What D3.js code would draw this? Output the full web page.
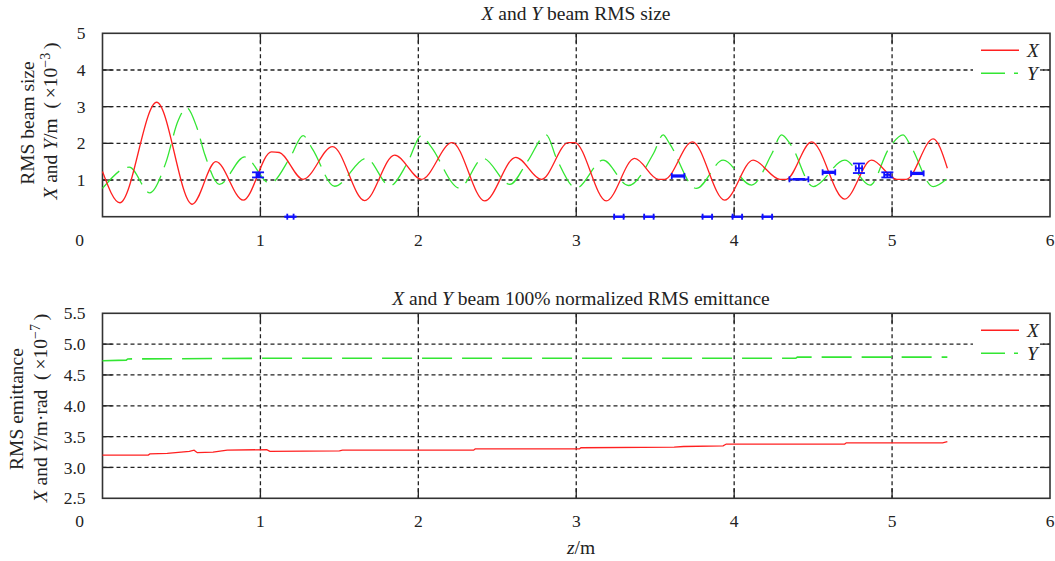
<!DOCTYPE html>
<html>
<head>
<meta charset="utf-8">
<script src="https://cdn.jsdelivr.net/npm/d3@7/dist/d3.min.js"></script>
<style>
  body { margin: 0; background: #fff; }
  text { font-family: "Liberation Serif", "Times New Roman", serif; fill: #222; }
</style>
</head>
<body>
<div id="chart"></div>
<script>
// ---- data: top panel, RMS beam size (x10^-3 m) ----
var sizeXz = [0, 0.11, 0.343, 0.568, 0.718, 0.891, 1.07, 1.12, 1.27, 1.457, 1.66, 1.85, 2.02, 2.214, 2.42, 2.617, 2.78, 2.95, 2.99, 3.19, 3.37, 3.52, 3.56, 3.735, 3.94, 4.12, 4.29, 4.33, 4.49, 4.70, 4.87, 5.03, 5.09, 5.26, 5.35];
var sizeX  = [1.23, 0.38, 3.12, 0.34, 1.5, 0.45, 1.77, 1.75, 1.02, 1.91, 0.44, 1.68, 1.02, 2.02, 0.43, 1.62, 1.02, 2.02, 2.02, 0.43, 1.59, 1.02, 1.02, 2.04, 0.45, 1.54, 1.02, 1.02, 2.04, 0.48, 1.54, 1.02, 1.02, 2.12, 1.32];

var sizeYz = [0, 0.17, 0.30, 0.40, 0.48, 0.533, 0.596, 0.649, 0.74, 0.90, 1.06, 1.19, 1.27, 1.33, 1.47, 1.67, 1.82, 1.93, 2.02, 2.08, 2.26, 2.41, 2.58, 2.69, 2.81, 2.875, 3.0, 3.17, 3.33, 3.49, 3.55, 3.59, 3.76, 3.93, 4.11, 4.24, 4.30, 4.36, 4.50, 4.70, 4.86, 4.98, 5.07, 5.12, 5.26, 5.35];
var sizeY  = [0.77, 1.35, 0.65, 1.46, 2.63, 2.97, 2.45, 1.68, 0.88, 1.63, 0.91, 1.63, 2.21, 1.84, 0.83, 1.59, 0.84, 1.46, 2.21, 1.91, 0.78, 1.59, 0.88, 1.5, 2.23, 1.59, 0.78, 1.54, 0.85, 1.73, 2.23, 2.0, 0.77, 1.54, 0.86, 1.73, 2.23, 1.95, 0.82, 1.54, 0.86, 1.86, 2.23, 1.91, 0.82, 1.05];

// measured points with error bars
var markZ    = [0.985, 1.19, 3.27, 3.46, 3.645, 3.83, 4.02, 4.21, 4.41, 4.60, 4.79, 4.97, 5.16];
var markSize = [1.14, 0, 0, 0, 1.11, 0, 0, 0, 1.02, 1.21, 1.32, 1.14, 1.18];
var markDz   = [0.01, 0.02, 0.03, 0.03, 0.04, 0.03, 0.03, 0.03, 0.06, 0.04, 0.02, 0.02, 0.04];
var markDy   = [0.07, 0, 0, 0, 0.02, 0, 0, 0, 0.01, 0.02, 0.13, 0.07, 0.02];

// ---- data: bottom panel, normalized RMS emittance (x10^-7 m.rad) ----
var emitXz = [0, 0.29, 0.30, 0.41, 0.55, 0.58, 0.60, 0.70, 0.79, 1.04, 1.06, 1.50, 1.52, 2.35, 2.36, 3.02, 3.03, 3.62, 3.68, 3.93, 3.95, 4.70, 4.71, 5.32, 5.35];
var emitX  = [3.20, 3.20, 3.22, 3.23, 3.26, 3.28, 3.24, 3.25, 3.28, 3.29, 3.26, 3.27, 3.28, 3.28, 3.30, 3.30, 3.32, 3.33, 3.34, 3.35, 3.38, 3.38, 3.40, 3.40, 3.42];
var emitYz = [0, 0.15, 0.16, 1.0, 4.39, 4.40, 5.35];
var emitY  = [4.73, 4.74, 4.76, 4.77, 4.77, 4.79, 4.79];

var zTicks = [0, 1, 2, 3, 4, 5, 6];
var sizeTicks = [0, 1, 2, 3, 4, 5];
var emitTicks = [2.5, 3.0, 3.5, 4.0, 4.5, 5.0, 5.5];

var red = "#ff2020", green = "#33e633", blue = "#1010ff";
var labelSize = 19.5;

var svg = d3.select("#chart").append("svg")
    .attr("width", 1055)
    .attr("height", 561);

var x = d3.scaleLinear().domain([0, 6]).range([102.5, 1050]);

function zip(a, b) { return a.map(function(d, i) { return [d, b[i]]; }); }

function drawPanel(y, yTicks, fmt) {
    var g = svg.append("g");
    var x0 = x.range()[0], x1 = x.range()[1];
    var yb = y.range()[0], yt = y.range()[1];
    var innerX = zTicks.slice(1, -1);
    var innerY = yTicks.slice(1, -1);

    // dashed grid
    g.selectAll(".vg").data(innerX).enter().append("line")
        .attr("x1", function(d) { return x(d); }).attr("x2", function(d) { return x(d); })
        .attr("y1", yt).attr("y2", yb)
        .attr("stroke", "#222").attr("stroke-width", 1.3).attr("stroke-dasharray", "4,3");
    g.selectAll(".hg").data(innerY).enter().append("line")
        .attr("x1", x0).attr("x2", x1)
        .attr("y1", function(d) { return y(d); }).attr("y2", function(d) { return y(d); })
        .attr("stroke", "#222").attr("stroke-width", 1.3).attr("stroke-dasharray", "4,3");

    // legend box hides the grid under it
    g.append("rect").attr("x", 973).attr("y", yt + 4).attr("width", 70).attr("height", 52).attr("fill", "#fff");

    // inward ticks on four sides
    var tk = 10;
    innerX.forEach(function(d) {
        g.append("line").attr("x1", x(d)).attr("x2", x(d)).attr("y1", yb).attr("y2", yb - tk).attr("stroke", "#222").attr("stroke-width", 1.3);
        g.append("line").attr("x1", x(d)).attr("x2", x(d)).attr("y1", yt).attr("y2", yt + tk).attr("stroke", "#222").attr("stroke-width", 1.3);
    });
    innerY.forEach(function(d) {
        g.append("line").attr("x1", x0).attr("x2", x0 + tk).attr("y1", y(d)).attr("y2", y(d)).attr("stroke", "#222").attr("stroke-width", 1.3);
        g.append("line").attr("x1", x1).attr("x2", x1 - tk).attr("y1", y(d)).attr("y2", y(d)).attr("stroke", "#222").attr("stroke-width", 1.3);
    });

    // border
    g.append("rect").attr("x", x0).attr("y", yt).attr("width", x1 - x0).attr("height", yb - yt)
        .attr("fill", "none").attr("stroke", "#333").attr("stroke-width", 1.6);

    // tick labels
    g.selectAll(".xl").data(zTicks).enter().append("text")
        .attr("x", function(d) { return d === 0 ? x(d) - 23 : x(d); })
        .attr("y", yb + 23).attr("dy", "0.35em")
        .attr("text-anchor", "middle").attr("font-size", 17.5)
        .text(function(d) { return d; });
    g.selectAll(".yl").data(yTicks).enter().append("text")
        .attr("x", x0 - 17).attr("y", function(d) { return y(d); }).attr("dy", "0.35em")
        .attr("text-anchor", "end").attr("font-size", 17.5)
        .text(fmt);
    return g;
}

function legend(g, yt, dashY) {
    var items = [["X", red, null], ["Y", green, dashY]];
    items.forEach(function(it, i) {
        var ly = yt + 17 + i * 23;
        g.append("line").attr("x1", 981).attr("x2", 1019).attr("y1", ly).attr("y2", ly)
            .attr("stroke", it[1]).attr("stroke-width", 1.5)
            .attr("stroke-dasharray", it[2]);
        g.append("text").attr("x", 1027).attr("y", ly).attr("dy", "0.35em")
            .attr("font-size", labelSize).attr("font-style", "italic").text(it[0]);
    });
}

function unitLabel(cx, cy, unit, exp) {
    svg.append("g").attr("transform", "translate(" + cx + "," + cy + ") rotate(-90)")
        .append("text").attr("text-anchor", "middle").attr("dy", "0.35em").attr("font-size", labelSize)
        .html('<tspan font-style="italic">X</tspan> and <tspan font-style="italic">Y</tspan>/' + unit +
              '\u2002(\u2009×10<tspan font-size="14" dy="-7">−' + exp + '</tspan><tspan dy="7">\u2009)</tspan>');
}

// ---------- top panel ----------
var yTop = d3.scaleLinear().domain([0, 5]).range([216.7, 33.3]);
var gTop = drawPanel(yTop, sizeTicks, function(d) { return d === 0 ? "" : d; });

var lineTop = d3.line().x(function(d) { return x(d[0]); }).y(function(d) { return yTop(d[1]); }).curve(d3.curveMonotoneX);

gTop.append("path").datum(zip(sizeYz, sizeY)).attr("d", lineTop)
    .attr("fill", "none").attr("stroke", green).attr("stroke-width", 1.3).attr("stroke-dasharray", "24,9");
gTop.append("path").datum(zip(sizeXz, sizeX)).attr("d", lineTop)
    .attr("fill", "none").attr("stroke", red).attr("stroke-width", 1.3);

// error bar markers
var marks = markZ.map(function(z, i) { return { z: z, v: markSize[i], dz: markDz[i], dv: markDy[i] }; });
var mg = gTop.selectAll(".mk").data(marks).enter().append("g").attr("stroke", blue).attr("stroke-width", 1.8);
mg.append("line")
    .attr("x1", function(d) { return x(d.z - d.dz); }).attr("x2", function(d) { return x(d.z + d.dz); })
    .attr("y1", function(d) { return yTop(d.v); }).attr("y2", function(d) { return yTop(d.v); });
mg.append("line")
    .attr("x1", function(d) { return x(d.z); }).attr("x2", function(d) { return x(d.z); })
    .attr("y1", function(d) { return yTop(d.v - d.dv); }).attr("y2", function(d) { return yTop(d.v + d.dv); });
[-1, 1].forEach(function(s) {
    // caps on the vertical bar
    mg.append("line")
        .attr("x1", function(d) { return x(d.z) - 6; }).attr("x2", function(d) { return x(d.z) + 6; })
        .attr("y1", function(d) { return yTop(d.v + s * d.dv); }).attr("y2", function(d) { return yTop(d.v + s * d.dv); });
    // end ticks on the horizontal bar
    mg.append("line")
        .attr("x1", function(d) { return x(d.z + s * d.dz); }).attr("x2", function(d) { return x(d.z + s * d.dz); })
        .attr("y1", function(d) { return yTop(d.v) - 3; }).attr("y2", function(d) { return yTop(d.v) + 3; });
});

legend(gTop, yTop.range()[1], "24,9,4,20");

svg.append("text").attr("x", 576).attr("y", 13).attr("dy", "0.35em").attr("text-anchor", "middle").attr("font-size", labelSize)
    .html('<tspan font-style="italic">X</tspan> and <tspan font-style="italic">Y</tspan> beam RMS size');

svg.append("g").attr("transform", "translate(27,123) rotate(-90)")
    .append("text").attr("text-anchor", "middle").attr("dy", "0.35em").attr("font-size", labelSize).text("RMS beam size");
unitLabel(50, 121, "m", "3");

// ---------- bottom panel ----------
var yBot = d3.scaleLinear().domain([2.5, 5.5]).range([498.3, 313.3]);
var gBot = drawPanel(yBot, emitTicks, d3.format(".1f"));

var lineBot = d3.line().x(function(d) { return x(d[0]); }).y(function(d) { return yBot(d[1]); });

gBot.append("path").datum(zip(emitYz, emitY)).attr("d", lineBot)
    .attr("fill", "none").attr("stroke", green).attr("stroke-width", 1.6).attr("stroke-dasharray", "30,10");
gBot.append("path").datum(zip(emitXz, emitX)).attr("d", lineBot)
    .attr("fill", "none").attr("stroke", red).attr("stroke-width", 1.3);

legend(gBot, yBot.range()[1], "24,9,4,20");

svg.append("text").attr("x", 581).attr("y", 298).attr("dy", "0.35em").attr("text-anchor", "middle").attr("font-size", labelSize)
    .html('<tspan font-style="italic">X</tspan> and <tspan font-style="italic">Y</tspan> beam 100% normalized RMS emittance');

svg.append("g").attr("transform", "translate(16,409) rotate(-90)")
    .append("text").attr("text-anchor", "middle").attr("dy", "0.35em").attr("font-size", labelSize).text("RMS emittance");
unitLabel(40, 408, "m·rad", "7");

svg.append("text").attr("x", 581).attr("y", 547).attr("dy", "0.35em").attr("text-anchor", "middle").attr("font-size", labelSize)
    .html('<tspan font-style="italic">z</tspan>/m');
</script>
</body>
</html>
